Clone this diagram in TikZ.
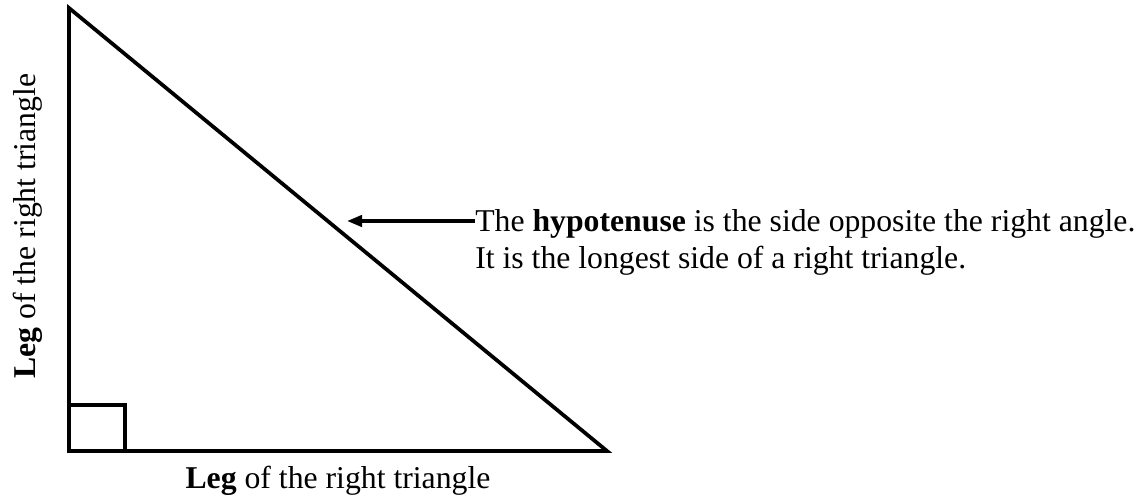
\documentclass[tikz,border=0pt]{standalone}
\usepackage{fontspec}
\setmainfont{Liberation Serif}
\usetikzlibrary{positioning,arrows.meta}

\begin{document}
\begin{tikzpicture}[x=0.75pt,y=-0.75pt,
  side/.style={line width=2.8pt,line join=miter},
  lbl/.style={font=\fontsize{23.8}{27.6}\selectfont,inner sep=0pt},
  arr/.style={-{Triangle[length=4mm,width=3mm]},line width=2.6pt}
]
\useasboundingbox (0,0) rectangle (1144,495);
\coordinate (top) at (69,8);
\coordinate (rt) at (69,451);
\coordinate (br) at (607,451);
\draw[side] (top) -- (rt) -- (br) -- cycle;
\draw[side] (69,405) -| (125,451);
\node[lbl,anchor=base west,align=left] (note) at (475,268)
  {The \textbf{hypotenuse} is the side opposite the right angle.\\It is the longest side of a right triangle.};
\coordinate (tip) at (347,221);
\draw[arr] (note.west |- tip) -- (tip);
\node[lbl,anchor=base] (legb) at (338,488) {\textbf{Leg} of the right triangle};
\node[lbl,anchor=base,rotate=90] (legl) at (35,226) {\textbf{Leg} of the right triangle};
\end{tikzpicture}
\end{document}
